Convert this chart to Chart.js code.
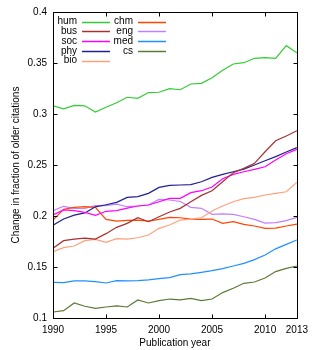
<!DOCTYPE html>
<html>
<head>
<meta charset="utf-8">
<script src="https://cdn.jsdelivr.net/npm/chart.js@4"></script>
<style>
  html, body { margin: 0; padding: 0; background: #fff; }
  #wrap { width: 314px; height: 350px; position: relative; }
</style>
</head>
<body>
<div id="wrap"><canvas id="chart"></canvas></div>
<script>
const YEARS = [1990,1991,1992,1993,1994,1995,1996,1997,1998,1999,2000,2001,2002,2003,2004,2005,2006,2007,2008,2009,2010,2011,2012,2013];
const X_TICKS = [1990,1995,2000,2005,2010,2013];

const hum = [0.308,0.305,0.3085,0.308,0.302,0.3066,0.311,0.3164,0.3154,0.321,0.3213,0.3248,0.3238,0.3294,0.330,0.3356,0.343,0.349,0.3503,0.3546,0.3552,0.3546,0.367,0.360];
const bus = [0.1683,0.1758,0.1774,0.1784,0.1774,0.1827,0.1889,0.1928,0.1983,0.1944,0.1993,0.2039,0.2075,0.214,0.2202,0.2248,0.2336,0.2425,0.2467,0.2516,0.263,0.2738,0.2784,0.2836];
const soc = [0.201,0.2059,0.2052,0.2036,0.2006,0.2046,0.2052,0.2078,0.2098,0.2108,0.214,0.2173,0.2173,0.2229,0.2248,0.2284,0.2366,0.2408,0.2434,0.2457,0.2483,0.2549,0.2611,0.2653];
const phy = [0.191,0.197,0.2009,0.203,0.209,0.211,0.2134,0.2183,0.219,0.2222,0.228,0.23,0.2304,0.2307,0.2336,0.2379,0.2408,0.2434,0.246,0.25,0.2542,0.2582,0.2627,0.267];
const bio = [0.165,0.169,0.1706,0.1758,0.1771,0.1742,0.1778,0.1774,0.1787,0.1814,0.1879,0.1912,0.196,0.197,0.1983,0.2049,0.2098,0.214,0.217,0.2183,0.2206,0.2222,0.2238,0.233];
const chm = [0.196,0.2065,0.2085,0.2091,0.2085,0.1967,0.195,0.1957,0.196,0.195,0.1967,0.1987,0.1983,0.197,0.1967,0.197,0.1928,0.1944,0.1918,0.1902,0.1879,0.1882,0.1902,0.1921];
const eng = [0.2052,0.2095,0.2075,0.2075,0.2101,0.2101,0.2117,0.2091,0.2098,0.2108,0.2163,0.2157,0.2142,0.2085,0.2075,0.2016,0.202,0.2016,0.1993,0.1967,0.1931,0.1935,0.1954,0.1987];
const med = [0.135,0.1347,0.1363,0.1363,0.1356,0.1343,0.1366,0.1363,0.1366,0.1373,0.1386,0.1396,0.1425,0.1432,0.1448,0.1464,0.1484,0.151,0.1536,0.1572,0.1618,0.1678,0.1722,0.1765];
const cs  = [0.1059,0.1072,0.1147,0.1115,0.1095,0.1108,0.1118,0.1108,0.1177,0.1147,0.117,0.1186,0.1177,0.1193,0.117,0.1186,0.1249,0.1291,0.134,0.1353,0.1392,0.1455,0.1487,0.151];

const SERIES = [
  { label: 'hum', data: hum, color: '#33cc33' },
  { label: 'bus', data: bus, color: '#a83232' },
  { label: 'soc', data: soc, color: '#ff00ff' },
  { label: 'phy', data: phy, color: '#202090' },
  { label: 'bio', data: bio, color: '#ffa07a' },
  { label: 'chm', data: chm, color: '#ff4500' },
  { label: 'eng', data: eng, color: '#c080ff' },
  { label: 'med', data: med, color: '#1e90ff' },
  { label: 'cs',  data: cs,  color: '#5b7a36' }
];

const FONT = "'Liberation Sans', Arial, sans-serif";

// gnuplot-like frame, mirrored inward ticks and key
const framePlugin = {
  id: 'frame',
  afterDraw(chart) {
    const { ctx, chartArea: a, scales: { x, y } } = chart;
    const L = Math.round(a.left) + 0.5, R = Math.round(a.right) + 0.5;
    const T = Math.round(a.top) + 0.5, B = Math.round(a.bottom) + 0.5;
    ctx.save();
    ctx.strokeStyle = '#000';
    ctx.lineWidth = 1;
    ctx.beginPath();
    ctx.rect(L, T, R - L, B - T);
    x.ticks.forEach(t => {
      const px = Math.round(x.getPixelForValue(t.value)) + 0.5;
      ctx.moveTo(px, B); ctx.lineTo(px, B - 4);
      ctx.moveTo(px, T); ctx.lineTo(px, T + 4);
    });
    y.ticks.forEach(t => {
      const py = Math.round(y.getPixelForValue(t.value)) + 0.5;
      ctx.moveTo(L, py); ctx.lineTo(L + 4, py);
      ctx.moveTo(R, py); ctx.lineTo(R - 4, py);
    });
    ctx.stroke();

    // key, column-major, 5 rows
    ctx.font = '10px ' + FONT;
    ctx.textAlign = 'right';
    ctx.textBaseline = 'middle';
    ctx.lineWidth = 1.5;
    chart.data.datasets.forEach((ds, i) => {
      const col = Math.floor(i / 5), row = i % 5;
      const tx = a.left + 24 + col * 56;
      const ty = a.top + 9.5 + row * 9.75;
      ctx.fillStyle = '#000';
      ctx.fillText(ds.label, tx, ty);
      ctx.strokeStyle = ds.borderColor;
      ctx.beginPath();
      ctx.moveTo(tx + 5, Math.round(ty) + 0.5);
      ctx.lineTo(tx + 33, Math.round(ty) + 0.5);
      ctx.stroke();
    });
    ctx.restore();
  }
};

new Chart(document.getElementById('chart'), {
  type: 'line',
  data: {
    datasets: SERIES.map(s => ({
      label: s.label,
      data: YEARS.map((yr, i) => ({ x: yr, y: s.data[i] })),
      borderColor: s.color,
      backgroundColor: s.color,
      borderWidth: 1.2,
      pointRadius: 0,
      tension: 0,
      fill: false
    }))
  },
  options: {
    responsive: true,
    maintainAspectRatio: false,
    animation: false,
    layout: { padding: { top: 12, right: 16, left: 0, bottom: 0 } },
    plugins: { legend: { display: false }, tooltip: { enabled: false } },
    scales: {
      x: {
        type: 'linear',
        min: 1990,
        max: 2013,
        afterBuildTicks: s => { s.ticks = X_TICKS.map(v => ({ value: v })); },
        afterFit: s => { s.height = 32; },
        grid: { display: false, drawTicks: false },
        border: { display: false },
        ticks: { color: '#000', padding: 6, maxRotation: 0, font: { family: FONT, size: 10 }, callback: v => String(v) },
        title: { display: true, text: 'Publication year', color: '#000', padding: { top: 0, bottom: 1 }, font: { family: FONT, size: 10 } }
      },
      y: {
        min: 0.1,
        max: 0.4,
        afterFit: s => { s.width = 53; },
        grid: { display: false, drawTicks: false },
        border: { display: false },
        ticks: { color: '#000', padding: 6, stepSize: 0.05, font: { family: FONT, size: 10 }, callback: v => String(+v.toFixed(2)) },
        title: { display: true, text: 'Change in fraction of older citations', color: '#000', padding: { top: 10, bottom: 0 }, font: { family: FONT, size: 10 } }
      }
    }
  },
  plugins: [framePlugin]
});
</script>
</body>
</html>
